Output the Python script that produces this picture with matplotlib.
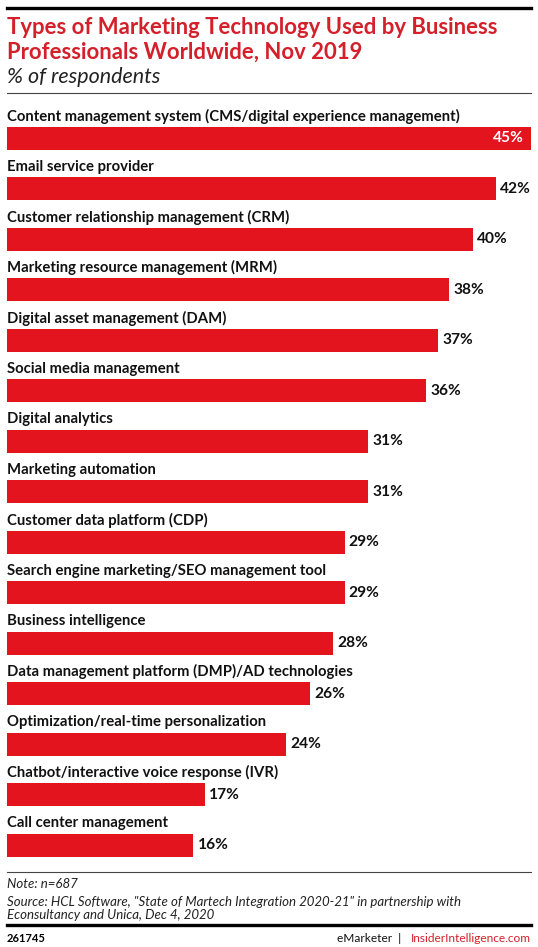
import matplotlib.pyplot as plt
from matplotlib.lines import Line2D

categories = [
    "Content management system (CMS/digital experience management)",
    "Email service provider",
    "Customer relationship management (CRM)",
    "Marketing resource management (MRM)",
    "Digital asset management (DAM)",
    "Social media management",
    "Digital analytics",
    "Marketing automation",
    "Customer data platform (CDP)",
    "Search engine marketing/SEO management tool",
    "Business intelligence",
    "Data management platform (DMP)/AD technologies",
    "Optimization/real-time personalization",
    "Chatbot/interactive voice response (IVR)",
    "Call center management",
]
values = [45, 42, 40, 38, 37, 36, 31, 31, 29, 29, 28, 26, 24, 17, 16]

title = "Types of Marketing Technology Used by Business\nProfessionals Worldwide, Nov 2019"
subtitle = "% of respondents"
note = "Note: n=687"
source = ("Source: HCL Software, \"State of Martech Integration 2020-21\" in partnership with\n"
          "Econsultancy and Unica, Dec 4, 2020")
chart_id = "261745"

RED = "#E3141E"
TITLE_RED = "#D3202B"
W, H = 538, 947

plt.rcParams['font.family'] = ['Lato', 'DejaVu Sans']

fig = plt.figure(figsize=(W / 100, H / 100), dpi=100)


def fx(px):
    return px / W


def fy(py):
    return 1 - py / H


def hline(y, lw, color="black"):
    fig.add_artist(Line2D([fx(7), fx(531)], [fy(y), fy(y)], lw=lw, color=color,
                          transform=fig.transFigure))


hline(8, 2.4)
fig.text(fx(7), fy(40), title, color=TITLE_RED, fontsize=15.9, fontweight='bold',
         va='center', ha='left', linespacing=1.2)
fig.text(fx(7), fy(77), subtitle, fontsize=15.5, style='italic', va='center', ha='left',
         color="#222222")
hline(93, 0.8, "#444444")

# bar area
top_px, bot_px = 95, 865
step = 50.5
first_center = 138
ax = fig.add_axes([fx(7), fy(bot_px), fx(524), (bot_px - top_px) / H])
ax.set_xlim(0, 45)
ax.set_ylim(14 + (bot_px - 845) / step, -(first_center - top_px) / step)
ax.axis('off')

ypos = list(range(len(categories)))
ax.barh(ypos, values, height=23 / step, color=RED)
for i, (cat, v) in enumerate(zip(categories, values)):
    ax.text(0, i - 22 / step, cat, fontsize=10.7, fontweight='bold', va='center',
            ha='left', color="#111111")
    if v == max(values):
        ax.annotate(f"{v}%", (v, i), xytext=(-5, 0), textcoords='offset points',
                    ha='right', va='center', color='white', fontsize=11.2,
                    fontweight='bold')
    else:
        ax.annotate(f"{v}%", (v, i), xytext=(3, 0), textcoords='offset points',
                    ha='left', va='center', color='#111111', fontsize=11.2,
                    fontweight='bold')

hline(872, 0.8, "#444444")
fig.text(fx(7), fy(884), note, fontsize=9.5, style='italic', va='center', ha='left',
         color="#222222")
fig.text(fx(7), fy(908), source, fontsize=9.5, style='italic', va='center', ha='left',
         color="#222222", linespacing=1.1)
hline(925, 2.4)
fig.text(fx(7), fy(938), chart_id, fontsize=8, fontweight='bold', va='center', ha='left')
fig.text(fx(531), fy(938), "InsiderIntelligence.com", fontsize=8.6, va='center',
         ha='right', color=TITLE_RED)
fig.text(fx(401), fy(938), "eMarketer  |", fontsize=8.6, va='center', ha='right',
         color='#111111')

fig.savefig("out.png", dpi=100)
